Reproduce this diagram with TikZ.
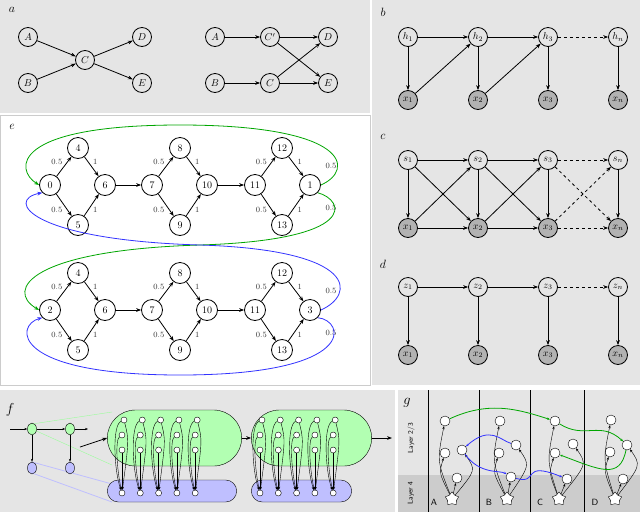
\documentclass[tikz,border=0pt]{standalone}
\usetikzlibrary{arrows.meta,shapes.geometric,shapes.misc,calc}
\begin{document}
\begin{tikzpicture}[x=1pt,y=-1pt,
  v/.style={circle,draw,thick,minimum size=19pt,inner sep=0pt,font=\normalsize},
  vg/.style={v,fill=gray!60},
  ev/.style={circle,draw,thick,minimum size=21pt,inner sep=0pt,font=\normalsize},
  a/.style={-{Stealth[length=5pt]},thick},
  ad/.style={a,dashed},
  lab/.style={font=\large\itshape},
  wl/.style={font=\footnotesize,text=black!80},
  sc/.style={circle,draw,fill=white,minimum size=6pt,inner sep=0pt},
  gc/.style={circle,draw,fill=white,minimum size=10pt,inner sep=0pt},
  ga/.style={-{Stealth[length=3pt]},thin}]
\useasboundingbox (0,0) rectangle (640,512);
\fill[white] (0,0) rectangle (640,512);
\fill[gray!20] (0,0) rectangle (370,113);
\draw[gray!40] (0,115) rectangle (370,385);
\fill[gray!20] (372,0) rectangle (640,385);
\fill[gray!20] (0,390) rectangle (395,512);
\fill[gray!20] (398,390) rectangle (640,512);
\fill[gray!40] (398,475) rectangle (640,512);
% panel a
\node[lab] at (12,10) {$a$};
\node[v] (A) at (28,37) {$A$}; \node[v] (B) at (28,83) {$B$};
\node[v] (C) at (85,60) {$C$}; \node[v] (D) at (142,37) {$D$}; \node[v] (E) at (142,83) {$E$};
\draw[a] (A)--(C); \draw[a] (B)--(C); \draw[a] (C)--(D); \draw[a] (C)--(E);
\node[v] (A2) at (215,37) {$A$}; \node[v] (B2) at (215,83) {$B$};
\node[v] (Cp) at (270,37) {$C'$}; \node[v] (C2) at (270,83) {$C$};
\node[v] (D2) at (328,37) {$D$}; \node[v] (E2) at (328,83) {$E$};
\draw[a] (A2)--(Cp); \draw[a] (B2)--(C2); \draw[a] (Cp)--(D2); \draw[a] (Cp)--(E2);
\draw[a] (C2)--(D2); \draw[a] (C2)--(E2);
% panel b
\node[lab] at (383,12) {$b$};
\foreach \i/\x/\t in {1/408/1,2/478/2,3/548/3,4/618/n}{
 \node[v] (h\i) at (\x,37) {$h_{\t}$}; \node[vg] (bx\i) at (\x,100) {$x_{\t}$};
 \draw[a] (h\i)--(bx\i);}
\draw[a] (h1)--(h2); \draw[a] (h2)--(h3); \draw[ad] (h3)--(h4);
\draw[a] (bx1)--(h2); \draw[a] (bx2)--(h3);
% panel c
\node[lab] at (383,137) {$c$};
\foreach \i/\x/\t in {1/408/1,2/478/2,3/548/3,4/618/n}{
 \node[v] (s\i) at (\x,160) {$s_{\t}$}; \node[vg] (cx\i) at (\x,228) {$x_{\t}$};
 \draw[a] (s\i)--(cx\i);}
\draw[a] (s1)--(s2); \draw[a] (s2)--(s3); \draw[ad] (s3)--(s4);
\draw[a] (cx1)--(cx2); \draw[a] (cx2)--(cx3); \draw[ad] (cx3)--(cx4);
\draw[a] (s1)--(cx2); \draw[a] (cx1)--(s2); \draw[a] (s2)--(cx3); \draw[a] (cx2)--(s3);
\draw[ad] (s3)--(cx4); \draw[ad] (cx3)--(s4);
% panel d
\node[lab] at (383,264) {$d$};
\foreach \i/\x/\t in {1/408/1,2/478/2,3/548/3,4/618/n}{
 \node[v] (z\i) at (\x,287) {$z_{\t}$}; \node[vg] (dx\i) at (\x,355) {$x_{\t}$};
 \draw[a] (z\i)--(dx\i);}
\draw[a] (z1)--(z2); \draw[a] (z2)--(z3); \draw[ad] (z3)--(z4);
% panel e
\node[lab] at (12,127) {$e$};
\foreach \r/\y/\s/\t in {T/185/0/1,U/310/2/3}{
 \node[ev] (\r s) at (50,\y) {\s};
 \node[ev] (\r 4) at (78,\y-37) {4}; \node[ev] (\r 5) at (78,\y+40) {5};
 \node[ev] (\r 6) at (105,\y) {6}; \node[ev] (\r 7) at (152,\y) {7};
 \node[ev] (\r 8) at (180,\y-37) {8}; \node[ev] (\r 9) at (180,\y+40) {9};
 \node[ev] (\r 10) at (207,\y) {10}; \node[ev] (\r 11) at (255,\y) {11};
 \node[ev] (\r 12) at (282,\y-37) {12}; \node[ev] (\r 13) at (282,\y+40) {13};
 \node[ev] (\r t) at (310,\y) {\t};
 \foreach \p/\u/\d/\q in {s/4/5/6,7/8/9/10,11/12/13/t}{
  \draw[a] (\r\p)--node[wl,above left=-2pt]{0.5}(\r\u);
  \draw[a] (\r\p)--node[wl,below left=-2pt]{0.5}(\r\d);
  \draw[a] (\r\u)--node[wl,above right=-2pt]{1}(\r\q);
  \draw[a] (\r\d)--node[wl,below right=-2pt]{1}(\r\q);}
 \draw[a] (\r 6)--(\r 7); \draw[a] (\r 10)--(\r 11);
}
\node[wl] at (331,166) {0.5}; \node[wl] at (331,208) {0.5};
\node[wl] at (331,291) {0.5}; \node[wl] at (331,333) {0.5};
\draw[a,green!65!black] (Tt.east) .. controls (355,170) and (350,125) .. (180,125)
  .. controls (10,125) and (15,170) .. (Ts.west);
\draw[a,green!65!black] (Tt.south east) .. controls (345,200) and (360,240) .. (200,245)
  .. controls (30,250) and (5,290) .. (Us.west);
\draw[a,blue!80] (Ut.east) .. controls (355,295) and (360,250) .. (200,245)
  .. controls (30,240) and (5,200) .. (Ts.south west);
\draw[a,blue!80] (Ut.south east) .. controls (345,320) and (360,375) .. (180,375)
  .. controls (10,375) and (15,325) .. (Us.south west);
% panel f
\node[lab,font=\Large\itshape] at (10,410) {$f$};
\draw[green!40] (32,424)--(112,412); \draw[green!40] (32,429)--(112,465);
\draw[blue!25,thick] (32,462)--(112,484); \draw[blue!25,thick] (32,473)--(112,502);
\node[ellipse,draw,fill=green!30,minimum width=9pt,minimum height=12pt,inner sep=0pt] (f1) at (32,429) {};
\node[ellipse,draw,fill=green!30,minimum width=9pt,minimum height=12pt,inner sep=0pt] (f2) at (70,429) {};
\node[ellipse,draw,fill=blue!25,minimum width=9pt,minimum height=12pt,inner sep=0pt] (f3) at (32,468) {};
\node[ellipse,draw,fill=blue!25,minimum width=9pt,minimum height=12pt,inner sep=0pt] (f4) at (70,468) {};
\coordinate (fin) at (10,429);
\draw[ga] (fin)--(f1); \draw[ga] (f1)--(f2); \coordinate (fo) at (88,429); \draw[ga] (f2)--(fo);
\draw[ga] (f1)--(f3); \draw[ga] (f2)--(f4);
\node[rounded rectangle,draw,fill=green!30,minimum width=141pt,minimum height=56pt] (GL) at (174.5,438) {};
\node[rounded rectangle,draw,fill=blue!25,minimum width=136pt,minimum height=22pt] (PL) at (172,491) {};
\node[rounded rectangle,draw,fill=green!30,minimum width=127pt,minimum height=56pt] (GR) at (311.5,438) {};
\node[rounded rectangle,draw,fill=blue!25,minimum width=107pt,minimum height=22pt] (PR) at (301.5,491) {};
\foreach \k/\x in {L/122,R/260}{
 \foreach \j in {0,...,4}{
  \pgfmathsetmacro\cx{\x+\j*18.3}
  \node[sc] (\k\j a) at (\cx+2,420) {}; \node[sc] (\k\j b) at (\cx,435) {};
  \node[sc] (\k\j c) at (\cx,450) {}; \node[sc] (\k\j p) at (\cx,493) {};
  \draw[ga] (\k\j a) .. controls (\cx-10,425) and (\cx-8,470) .. (\k\j p);
  \draw[ga] (\k\j b) .. controls (\cx-7,440) and (\cx-5,470) .. (\k\j p);
  \draw[ga] (\k\j c)--(\k\j p);
  \draw[ga] (\k\j a) .. controls (\cx+7,440) .. (\k\j p);
 }}
\coordinate (gin) at (80,447); \draw[-{Stealth[length=5pt]},thick] (gin)--(GL.west);
\draw[-{Stealth[length=5pt]},thick] (GL.east)--(GR.west);
\coordinate (gout) at (392,438); \draw[-{Stealth[length=5pt]},thick] (GR.east)--(gout);
% panel g
\node[lab,font=\Large\itshape] at (407,403) {$g$};
\foreach \x in {428,479,530,584} \draw[thick] (\x,390)--(\x,512);
\node[rotate=90,font=\scriptsize\sffamily] at (411,438) {Layer 2/3};
\node[rotate=90,font=\scriptsize\sffamily] at (411,493) {Layer 4};
\foreach \L/\x/\sx in {A/434/452,B/489/507,C/540/559,D/595/615}{
 \node[font=\small\sffamily] (lab\L) at (\x,502) {\L};
 \node[star,star points=5,draw,fill=white,minimum size=14pt,inner sep=0pt] (st\L) at (\sx,499) {};
}
\node[gc] (A1) at (445,421) {}; \node[gc] (A2) at (445,453) {}; \node[gc] (A3) at (462,450) {}; \node[gc] (A4) at (457,478) {};
\node[gc] (B1) at (500,421) {}; \node[gc] (B2) at (499,453) {}; \node[gc] (B3) at (516,445) {}; \node[gc] (B4) at (511,477) {};
\node[gc] (C1) at (555,421) {}; \node[gc] (C2) at (555,453) {}; \node[gc] (C3) at (573,444) {}; \node[gc] (C4) at (567,479) {};
\node[gc] (D1) at (611,420) {}; \node[gc] (D2) at (610,452) {}; \node[gc] (D3) at (627,445) {}; \node[gc] (D4) at (623,479) {};
\foreach \L in {A,B,C,D}{
 \draw[ga] (st\L) .. controls ($(\L1)+(-8,40)$) .. (\L1);
 \draw[ga] (st\L) .. controls ($(\L2)+(-6,20)$) .. (\L2);
 \draw[ga] (st\L) .. controls ($(\L3)+(14,20)$) .. (\L3);
 \draw[ga] (st\L)--(\L4);}
\draw[ga,green!65!black,thick] (A1) .. controls (490,400) and (520,410) .. (C1);
\draw[ga,green!65!black,thick] (C1) .. controls (585,440) and (600,420) .. (D3);
\draw[ga,green!65!black,thick] (D3) .. controls (620,480) and (600,470) .. (C2);
\draw[ga,blue!80,thick] (B3) .. controls (500,440) and (490,425) .. (A3);
\draw[ga,blue!80,thick] (A3) .. controls (480,475) and (500,470) .. (B4);
\draw[ga,blue!80,thick] (B4) .. controls (540,485) and (520,460) .. (C4);
\end{tikzpicture}
\end{document}
